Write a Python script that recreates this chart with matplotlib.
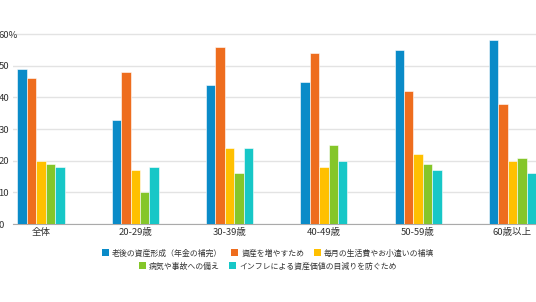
import matplotlib.pyplot as plt
import numpy as np
from matplotlib.patches import Patch

plt.rcParams['font.family'] = ['Noto Sans CJK JP', 'DejaVu Sans']

categories = ['全体', '20-29歳', '30-39歳', '40-49歳', '50-59歳', '60歳以上']
series_names = ['老後の資産形成（年金の補完）', '資産を増やすため', '毎月の生活費やお小遣いの補填',
                '病気や事故への備え', 'インフレによる資産価値の目減りを防ぐため']
values = [
    [49, 33, 44, 45, 55, 58],
    [46, 48, 56, 54, 42, 38],
    [20, 17, 24, 18, 22, 20],
    [19, 10, 16, 25, 19, 21],
    [18, 18, 24, 20, 17, 16],
]
colors = ['#0a8bc8', '#ee6d1e', '#ffc000', '#85c62a', '#17c7c7']
yticks = [0, 10, 20, 30, 40, 50, 60]
ytick_labels = ['0', '10', '20', '30', '40', '50', '60%']

fig = plt.figure(figsize=(5.36, 3.02), dpi=100)
ax = fig.add_axes([13/536, 78/302, 1 - 13/536, (224 - 31)/302])

x = np.arange(len(categories))
w = 0.1
for k, (vals, c) in enumerate(zip(values, colors)):
    ax.bar(x + (k - 2) * w, vals, w, color=c, edgecolor='white', linewidth=0.4, zorder=3)

ax.set_xlim(-0.297, 5.25)
ax.set_ylim(0, 61)
ax.set_yticks(yticks)
ax.set_yticklabels(ytick_labels)
ax.set_xticks(x)
ax.set_xticklabels(categories)
ax.grid(axis='y', color='#e3e3e3', linewidth=1, zorder=0)
for s in ['top', 'right', 'left']:
    ax.spines[s].set_visible(False)
ax.spines['bottom'].set_color('#aaaaaa')
ax.tick_params(axis='both', length=0, labelsize=6.8, colors='#333333')
ax.tick_params(axis='y', pad=1)
for lab in ax.get_yticklabels():
    lab.set_horizontalalignment('left')
    lab.set_x(-13/523)
ax.tick_params(axis='x', pad=3)

handles = [Patch(facecolor=c, edgecolor='none') for c in colors]
kw = dict(frameon=False, fontsize=5.7, handlelength=0.9, handleheight=0.9,
          handletextpad=0.4, columnspacing=1.15, borderaxespad=0, borderpad=0)
leg1 = fig.legend(handles[:3], series_names[:3], loc='center', ncol=3,
                  bbox_to_anchor=(268/536, 1 - 253/302), **kw)
leg2 = fig.legend(handles[3:], series_names[3:], loc='center', ncol=2,
                  bbox_to_anchor=(268/536, 1 - 266/302), **kw)
for leg in (leg1, leg2):
    for t in leg.get_texts():
        t.set_color('#333333')

fig.savefig('out.png', dpi=100)
